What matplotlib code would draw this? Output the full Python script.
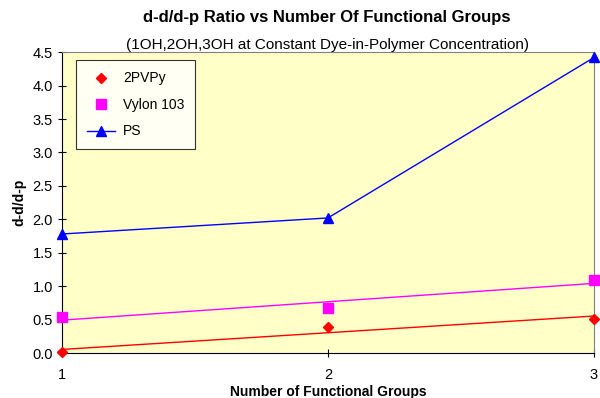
import numpy as np
import matplotlib.pyplot as plt

plt.rcParams['font.family'] = ['Liberation Sans', 'DejaVu Sans']

groups = [1, 2, 3]
pvpy = [0.01, 0.39, 0.51]
vylon = [0.54, 0.67, 1.09]
ps = [1.78, 2.02, 4.42]

fig = plt.figure(figsize=(6.0, 3.98), dpi=100)
ax = fig.add_axes([0.103, 0.113, 0.887, 0.756])
ax.set_facecolor('#FFFFC8')

x = np.array(groups, dtype=float)

# linear trendlines for the two lower series
for ys, col in [(pvpy, '#FF0000'), (vylon, '#FF00FF')]:
    k, b = np.polyfit(x, ys, 1)
    ax.plot(x, k * x + b, color=col, lw=1.0, zorder=2)

ax.plot(groups, pvpy, ls='none', marker='D', ms=5.5, color='#FF0000',
        label='2PVPy', clip_on=False, zorder=3)
ax.plot(groups, vylon, ls='none', marker='s', ms=7, color='#FF00FF',
        label='Vylon 103', clip_on=False, zorder=3)
ax.plot(groups, ps, color='#0000FF', lw=1.0, marker='^', ms=7,
        label='PS', clip_on=False, zorder=3)

ax.set_xlim(1, 3)
ax.set_ylim(0, 4.5)
ax.set_xticks([1, 2, 3])
ax.set_yticks(np.arange(0, 4.51, 0.5))
ax.set_yticklabels([f'{v:.1f}' for v in np.arange(0, 4.51, 0.5)])
ax.tick_params(direction='inout', length=6, labelsize=10.5, width=0.8)
ax.tick_params(axis='x', pad=8)

for s in ['top', 'right']:
    ax.spines[s].set_color('#808080')
for s in ['left', 'bottom']:
    ax.spines[s].set_color('black')

ax.set_xlabel('Number of Functional Groups', fontsize=10, fontweight='bold', labelpad=2)
ax.set_ylabel('d-d/d-p', fontsize=10, fontweight='bold', labelpad=4)

fig.text(0.545, 0.955, 'd-d/d-p Ratio vs Number Of Functional Groups',
         ha='center', va='center', fontsize=12, fontweight='bold')
fig.text(0.545, 0.887, '(1OH,2OH,3OH at Constant Dye-in-Polymer Concentration)',
         ha='center', va='center', fontsize=11)

leg = ax.legend(loc='upper left', bbox_to_anchor=(0.026, 0.973), borderaxespad=0,
                fontsize=10, frameon=True, fancybox=False, edgecolor='black',
                handlelength=2.0, handletextpad=0.6, borderpad=0.8, labelspacing=0.9)
leg.get_frame().set_facecolor('white')
leg.get_frame().set_linewidth(0.8)

fig.savefig('out.png', dpi=100)
